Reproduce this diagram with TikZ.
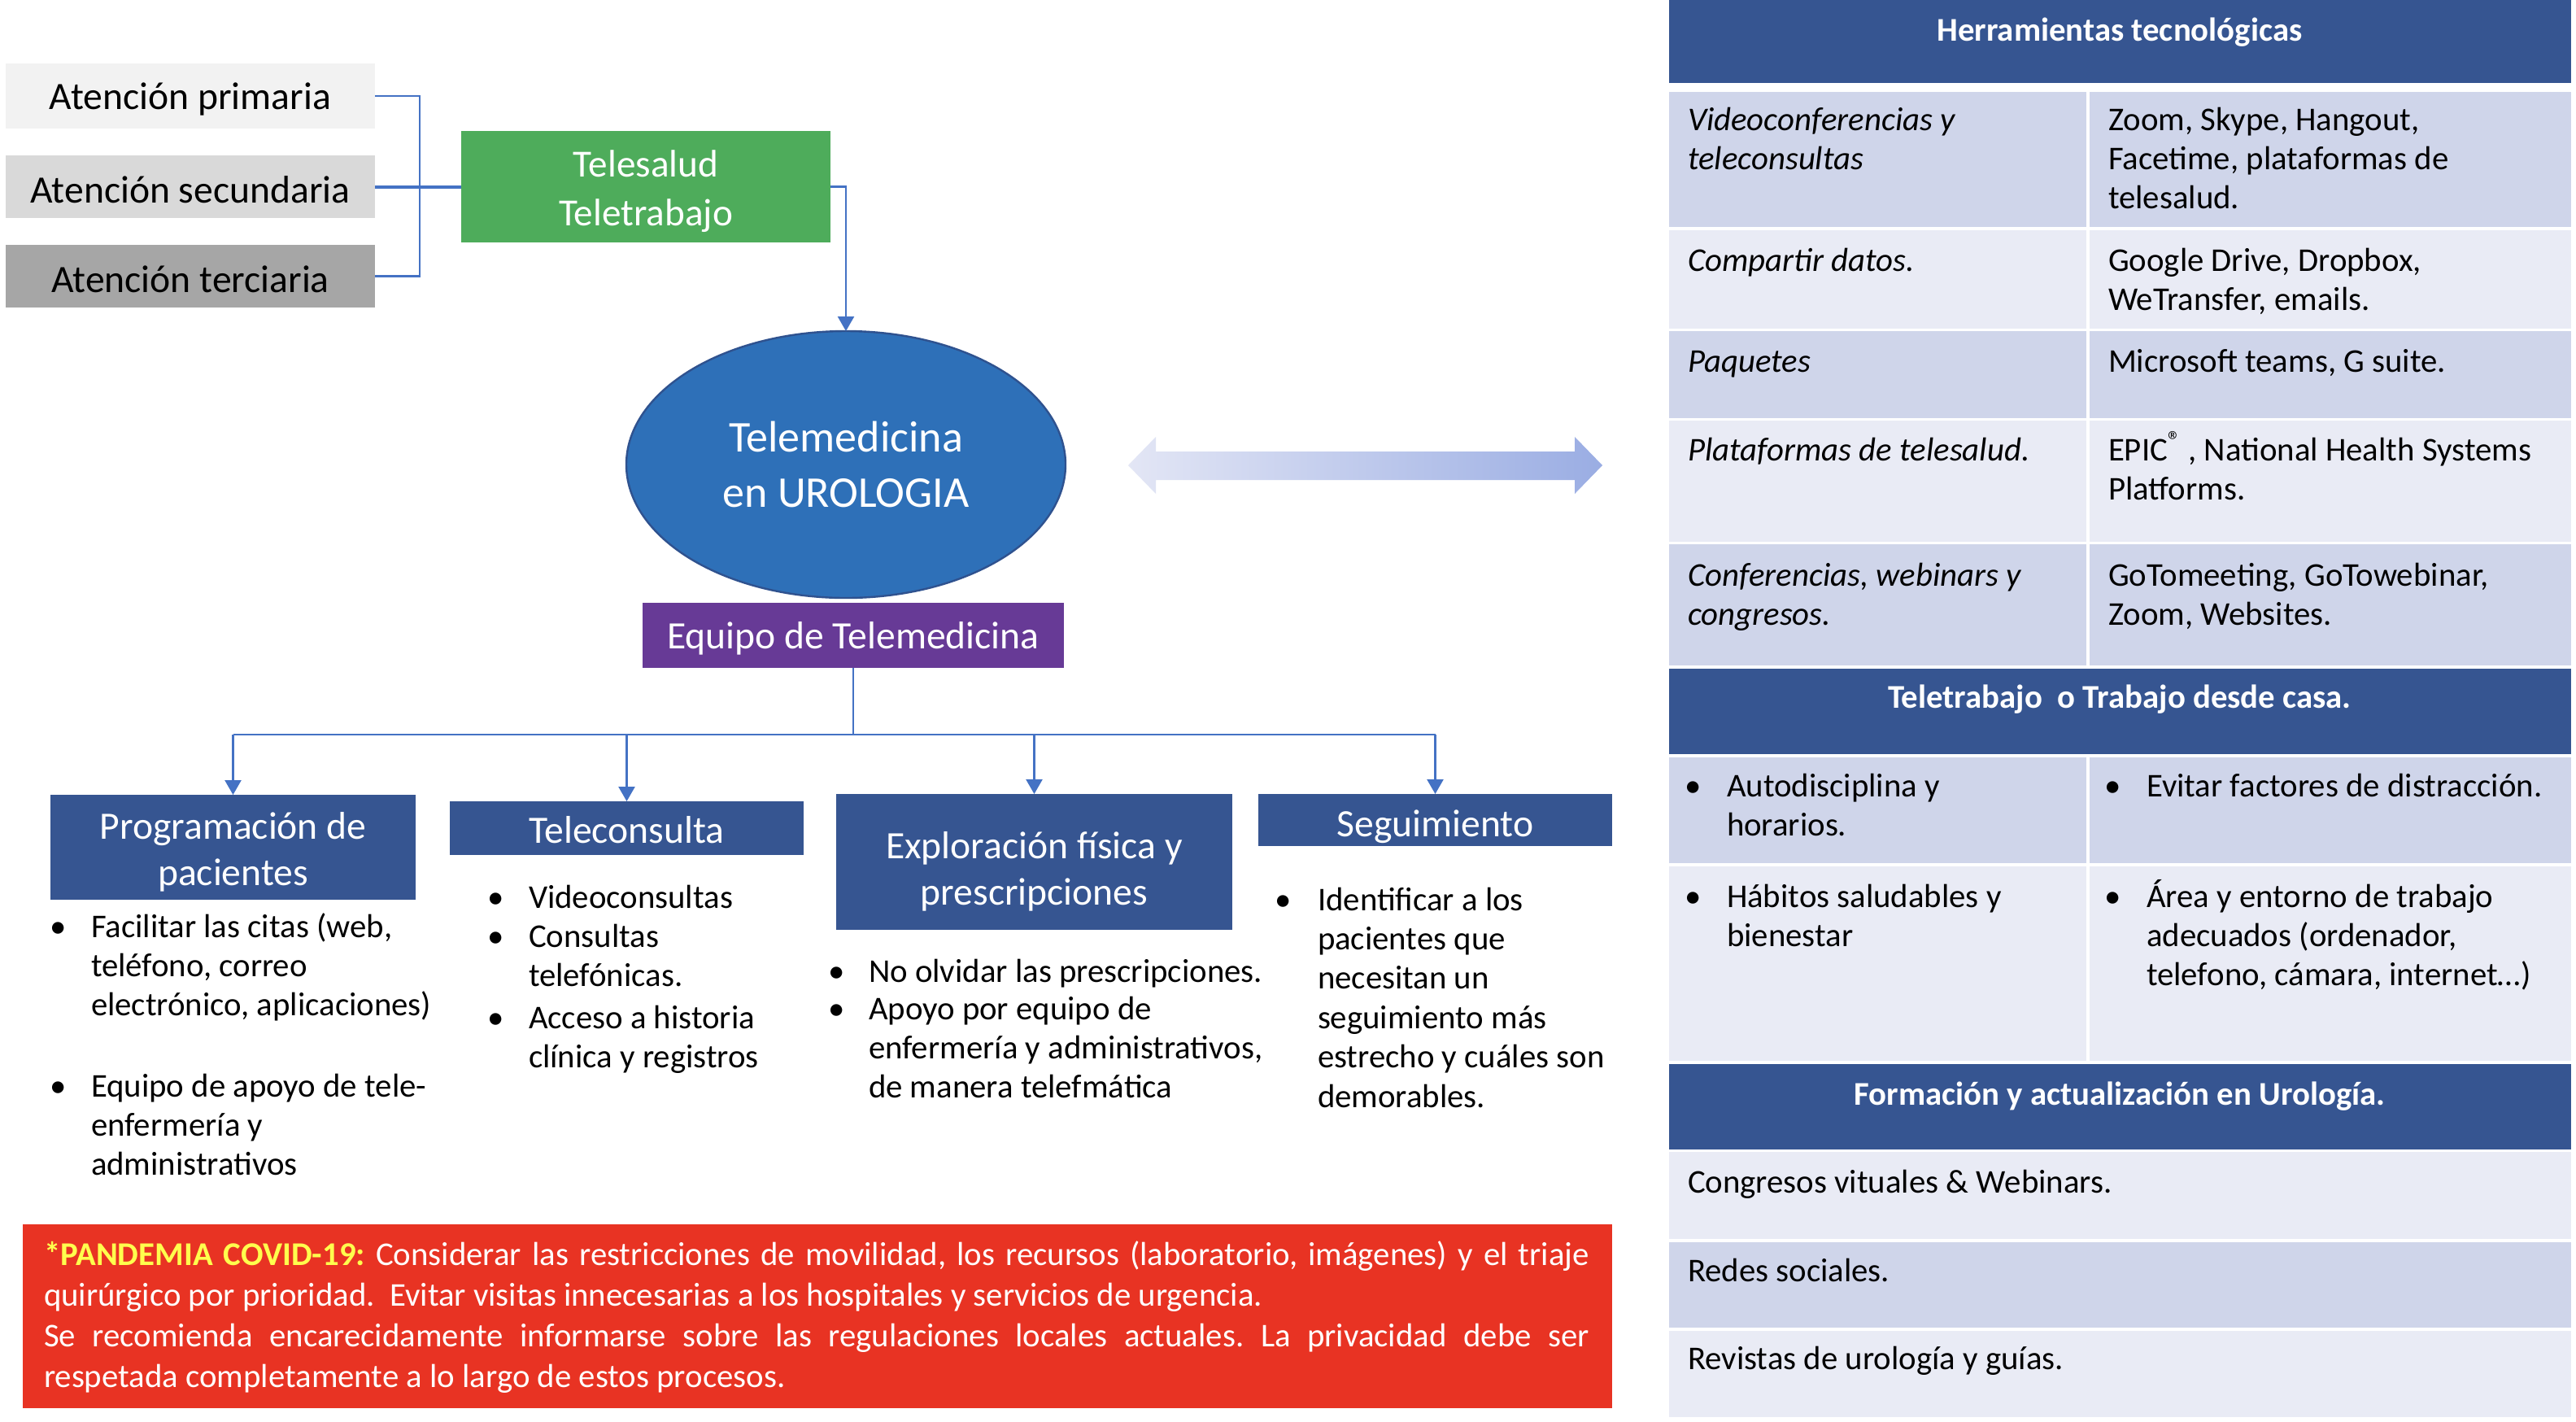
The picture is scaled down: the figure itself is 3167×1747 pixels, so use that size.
\documentclass[tikz,border=0pt]{standalone}
\usepackage{fontspec}
\setmainfont{Carlito}
\usetikzlibrary{shapes.geometric,arrows.meta,calc}
\definecolor{hdblue}{HTML}{365591}
\definecolor{rowA}{HTML}{CFD5EA}
\definecolor{rowB}{HTML}{E9EBF5}
\definecolor{linkblue}{HTML}{4472C4}
\definecolor{gbox}{HTML}{4EAC5B}
\definecolor{ellfill}{HTML}{2E70B8}
\definecolor{ellline}{HTML}{2F528F}
\definecolor{purp}{HTML}{673A96}
\definecolor{covred}{HTML}{E83323}
\definecolor{covyel}{HTML}{FFFF4D}
\definecolor{arrL}{HTML}{E3E6F5}
\definecolor{arrR}{HTML}{9AADE3}
\newcommand\splitrow[3]{\fill[#1] (2052,#2) rectangle (2565,#3); \fill[#1] (2569,#2) rectangle (3161,#3);}
\newcommand\fullrow[3]{\fill[#1] (2052,#2) rectangle (3161,#3);}
\newcommand\fl{\rule{0pt}{9.5pt}}
\begin{document}
\frenchspacing
\begin{tikzpicture}[x=0.25pt,y=-0.25pt,
  every node/.style={inner sep=0pt, outer sep=0pt},
  txt/.style={font=\fontsize{10.2}{12.1}\selectfont, anchor=north west, yshift=9.5pt, align=left},
  txti/.style={txt, font=\fontsize{10.2}{12.1}\selectfont\itshape},
  bul/.style={font=\fontsize{10.2}{12.1}\selectfont, anchor=base},
  hdr/.style={font=\fontsize{10.2}{12.1}\selectfont\bfseries, text=white, anchor=base},
  lvl/.style={minimum width=113.5pt},
  lvltxt/.style={font=\fontsize{11.9}{14.5}\selectfont},
  bluebox/.style={fill=hdblue},
  boxtxt/.style={text=white, font=\fontsize{11.9}{14.2}\selectfont, align=center},
  conn/.style={draw=linkblue, line width=0.6pt},
  arr/.style={conn, -{Triangle[length=4.5pt,width=5pt]}},
]
\fill[white] (0,0) rectangle (3167,1747);
\useasboundingbox (0,0) rectangle (3167,1747);

% levels of care
\node[lvl, fill=black!5, minimum height=20pt] (prim) at (234,118) {};
\node[lvltxt] (primt) at (234,122) {Atención primaria};
\node[lvl, fill=black!15, minimum height=19.25pt] (sec) at (234,229.5) {};
\node[lvltxt] (sect) at (234,233.5) {Atención secundaria};
\node[lvl, fill=black!35, minimum height=19.25pt] (ter) at (234,339.5) {};
\node[lvltxt] (tert) at (234,343.5) {Atención terciaria};
\node[fill=gbox, minimum width=113.5pt, minimum height=34.25pt] (tele) at (794,229.5) {};
\node[text=white, align=center, font=\fontsize{11.8}{15}\selectfont] (telet) at (794,235.5) {Telesalud\\Teletrabajo};
\coordinate (brk) at (516,229.5);
\draw[conn] (prim.east) -| (brk) |- (ter.east);
\draw[conn, line width=1pt] (sec.east) -- (tele.west);

% central ellipse
\node[ellipse, fill=ellfill, draw=ellline, line width=0.6pt, minimum width=135pt, minimum height=82pt,
      text=white, font=\fontsize{13.5}{17}\selectfont, align=center] (uro) at (1040,571) {Telemedicina\\en UROLOGIA};
\draw[arr] (tele.east) -| (uro.north);

\node[fill=purp, minimum width=129.5pt, minimum height=20pt] (equipo) at (1049,781) {};
\node[text=white, font=\fontsize{11.9}{14.5}\selectfont] (equipot) at (1049,785) {Equipo de Telemedicina};

% double arrow
\shade[left color=arrL, right color=arrR] (1387,572) -- (1421,537) -- (1421,555) -- (1936,555) -- (1936,537)
  -- (1970,572) -- (1936,607) -- (1936,590) -- (1421,590) -- (1421,607) -- cycle;

% four branches
\node[bluebox, minimum width=112.25pt, minimum height=32.25pt] (prog) at (286.5,1041.5) {};
\node[boxtxt] (progt) at (286.5,1047.5) {Programación de\\pacientes};
\node[bluebox, minimum width=108.75pt, minimum height=16.5pt] (telec) at (770.5,1018) {};
\node[boxtxt] (telect) at (770.5,1020) {Teleconsulta};
\node[bluebox, minimum width=121.75pt, minimum height=41.75pt] (expl) at (1271.5,1059.5) {};
\node[boxtxt] (explt) at (1271.5,1071) {Exploración física y\\prescripciones};
\node[bluebox, minimum width=108.75pt, minimum height=16pt] (seg) at (1764.5,1008) {};
\node[boxtxt] (segt) at (1764.5,1016) {Seguimiento};
\coordinate (bus) at (1050,903);
\draw[conn] (equipo.south) -- (equipo.south |- bus);
\draw[conn] (prog.north |- bus) -- (seg.north |- bus);
\draw[arr] (prog.north |- bus) -- (prog.north);
\draw[arr] (telec.north |- bus) -- (telec.north);
\draw[arr] (expl.north |- bus) -- (expl.north);
\draw[arr] (seg.north |- bus) -- (seg.north);

% bullets programacion
\node[bul] (pb1) at (72,1152) {•};
\node[txt] (pt1) at (112,1152) {\fl Facilitar las citas (web,\\teléfono, correo\\electrónico, aplicaciones)};
\node[bul] (pb2) at (72,1348) {•};
\node[txt] (pt2) at (112,1348) {\fl Equipo de apoyo de tele-\\enfermería y\\administrativos};
% teleconsulta
\node[bul] (cb1) at (610,1116) {•};
\node[txt] (ct1) at (650,1116) {\fl Videoconsultas};
\node[bul] (cb2) at (610,1164) {•};
\node[txt] (ct2) at (650,1164) {\fl Consultas\\telefónicas.};
\node[bul] (cb3) at (610,1264) {•};
\node[txt] (ct3) at (650,1264) {\fl Acceso a historia\\clínica y registros};
% exploracion
\node[bul] (eb1) at (1029,1207) {•};
\node[txt] (et1) at (1068,1207) {\fl No olvidar las prescripciones.};
\node[bul] (eb2) at (1029,1253) {•};
\node[txt] (et2) at (1068,1253) {\fl Apoyo por equipo de\\enfermería y administrativos,\\de manera telefmática};
% seguimiento
\node[bul] (sb1) at (1578,1119) {•};
\node[txt] (st1) at (1620,1119) {\fl Identificar a los\\pacientes que\\necesitan un\\seguimiento más\\estrecho y cuáles son\\demorables.};

% covid box
\node[fill=covred, minimum width=488.5pt, minimum height=56.5pt] (cov) at (1005,1618) {};
\node[font=\fontsize{10.2}{12.5}\selectfont\frenchspacing, text=white, text width=475pt, align=justify, anchor=base west] (covt) at (54,1555)
 {{\color{covyel}\bfseries *PANDEMIA COVID-19:} Considerar las restricciones de movilidad, los recursos (laboratorio, imágenes) y el triaje\linebreak
 quirúrgico por prioridad.\ \ Evitar visitas innecesarias a los hospitales y servicios de urgencia.\newline
 Se recomienda encarecidamente informarse sobre las regulaciones locales actuales. La privacidad debe ser\linebreak
 respetada completamente a lo largo de estos procesos.};

% right table
\fullrow{hdblue}{0}{102}
\node[hdr] (h1) at (2606,50) {Herramientas tecnológicas};
\splitrow{rowA}{113}{279}
\splitrow{rowB}{283}{404}
\splitrow{rowA}{407}{514}
\splitrow{rowB}{517}{666}
\splitrow{rowA}{669}{818}
\fullrow{hdblue}{822}{927}
\splitrow{rowA}{931}{1061}
\splitrow{rowB}{1065}{1304}
\fullrow{hdblue}{1308}{1413}
\fullrow{rowB}{1416}{1523}
\fullrow{rowA}{1527}{1632}
\fullrow{rowB}{1636}{1742}

\node[txti] (r1l) at (2075,160) {\fl Videoconferencias y\\teleconsultas};
\node[txt] (r1r) at (2592,160) {\fl Zoom, Skype, Hangout,\\Facetime, plataformas de\\telesalud.};
\node[txti] (r2l) at (2075,333) {\fl Compartir datos.};
\node[txt] (r2r) at (2592,333) {\fl Google Drive, Dropbox,\\WeTransfer, emails.};
\node[txti] (r3l) at (2075,457) {\fl Paquetes};
\node[txt] (r3r) at (2592,457) {\fl Microsoft teams, G suite.};
\node[txti] (r4l) at (2075,566) {\fl Plataformas de telesalud.};
\node[txt] (r4r) at (2592,566) {\fl EPIC{\raisebox{0.7ex}{\fontsize{8}{9}\selectfont ®}} , National Health Systems\\Platforms.};
\node[txti] (r5l) at (2075,720) {\fl Conferencias, webinars y\\congresos.};
\node[txt] (r5r) at (2592,720) {\fl GoTomeeting, GoTowebinar,\\Zoom, Websites.};
\node[hdr] (h2) at (2606,870) {Teletrabajo\ \ o Trabajo desde casa.};
\node[bul] (r6lb) at (2082,979) {•};
\node[txt] (r6l) at (2123,979) {\fl Autodisciplina y\\horarios.};
\node[bul] (r6rb) at (2598,979) {•};
\node[txt] (r6r) at (2639,979) {\fl Evitar factores de distracción.};
\node[bul] (r7lb) at (2082,1115) {•};
\node[txt] (r7l) at (2123,1115) {\fl Hábitos saludables y\\bienestar};
\node[bul] (r7rb) at (2598,1115) {•};
\node[txt] (r7r) at (2639,1115) {\fl Área y entorno de trabajo\\adecuados (ordenador,\\telefono, cámara, internet…)};
\node[hdr] (h3) at (2606,1358) {Formación y actualización en Urología.};
\node[txt] (r8) at (2075,1466) {\fl Congresos vituales \& Webinars.};
\node[txt] (r9) at (2075,1575) {\fl Redes sociales.};
\node[txt] (r10) at (2075,1683) {\fl Revistas de urología y guías.};
\end{tikzpicture}
\end{document}
